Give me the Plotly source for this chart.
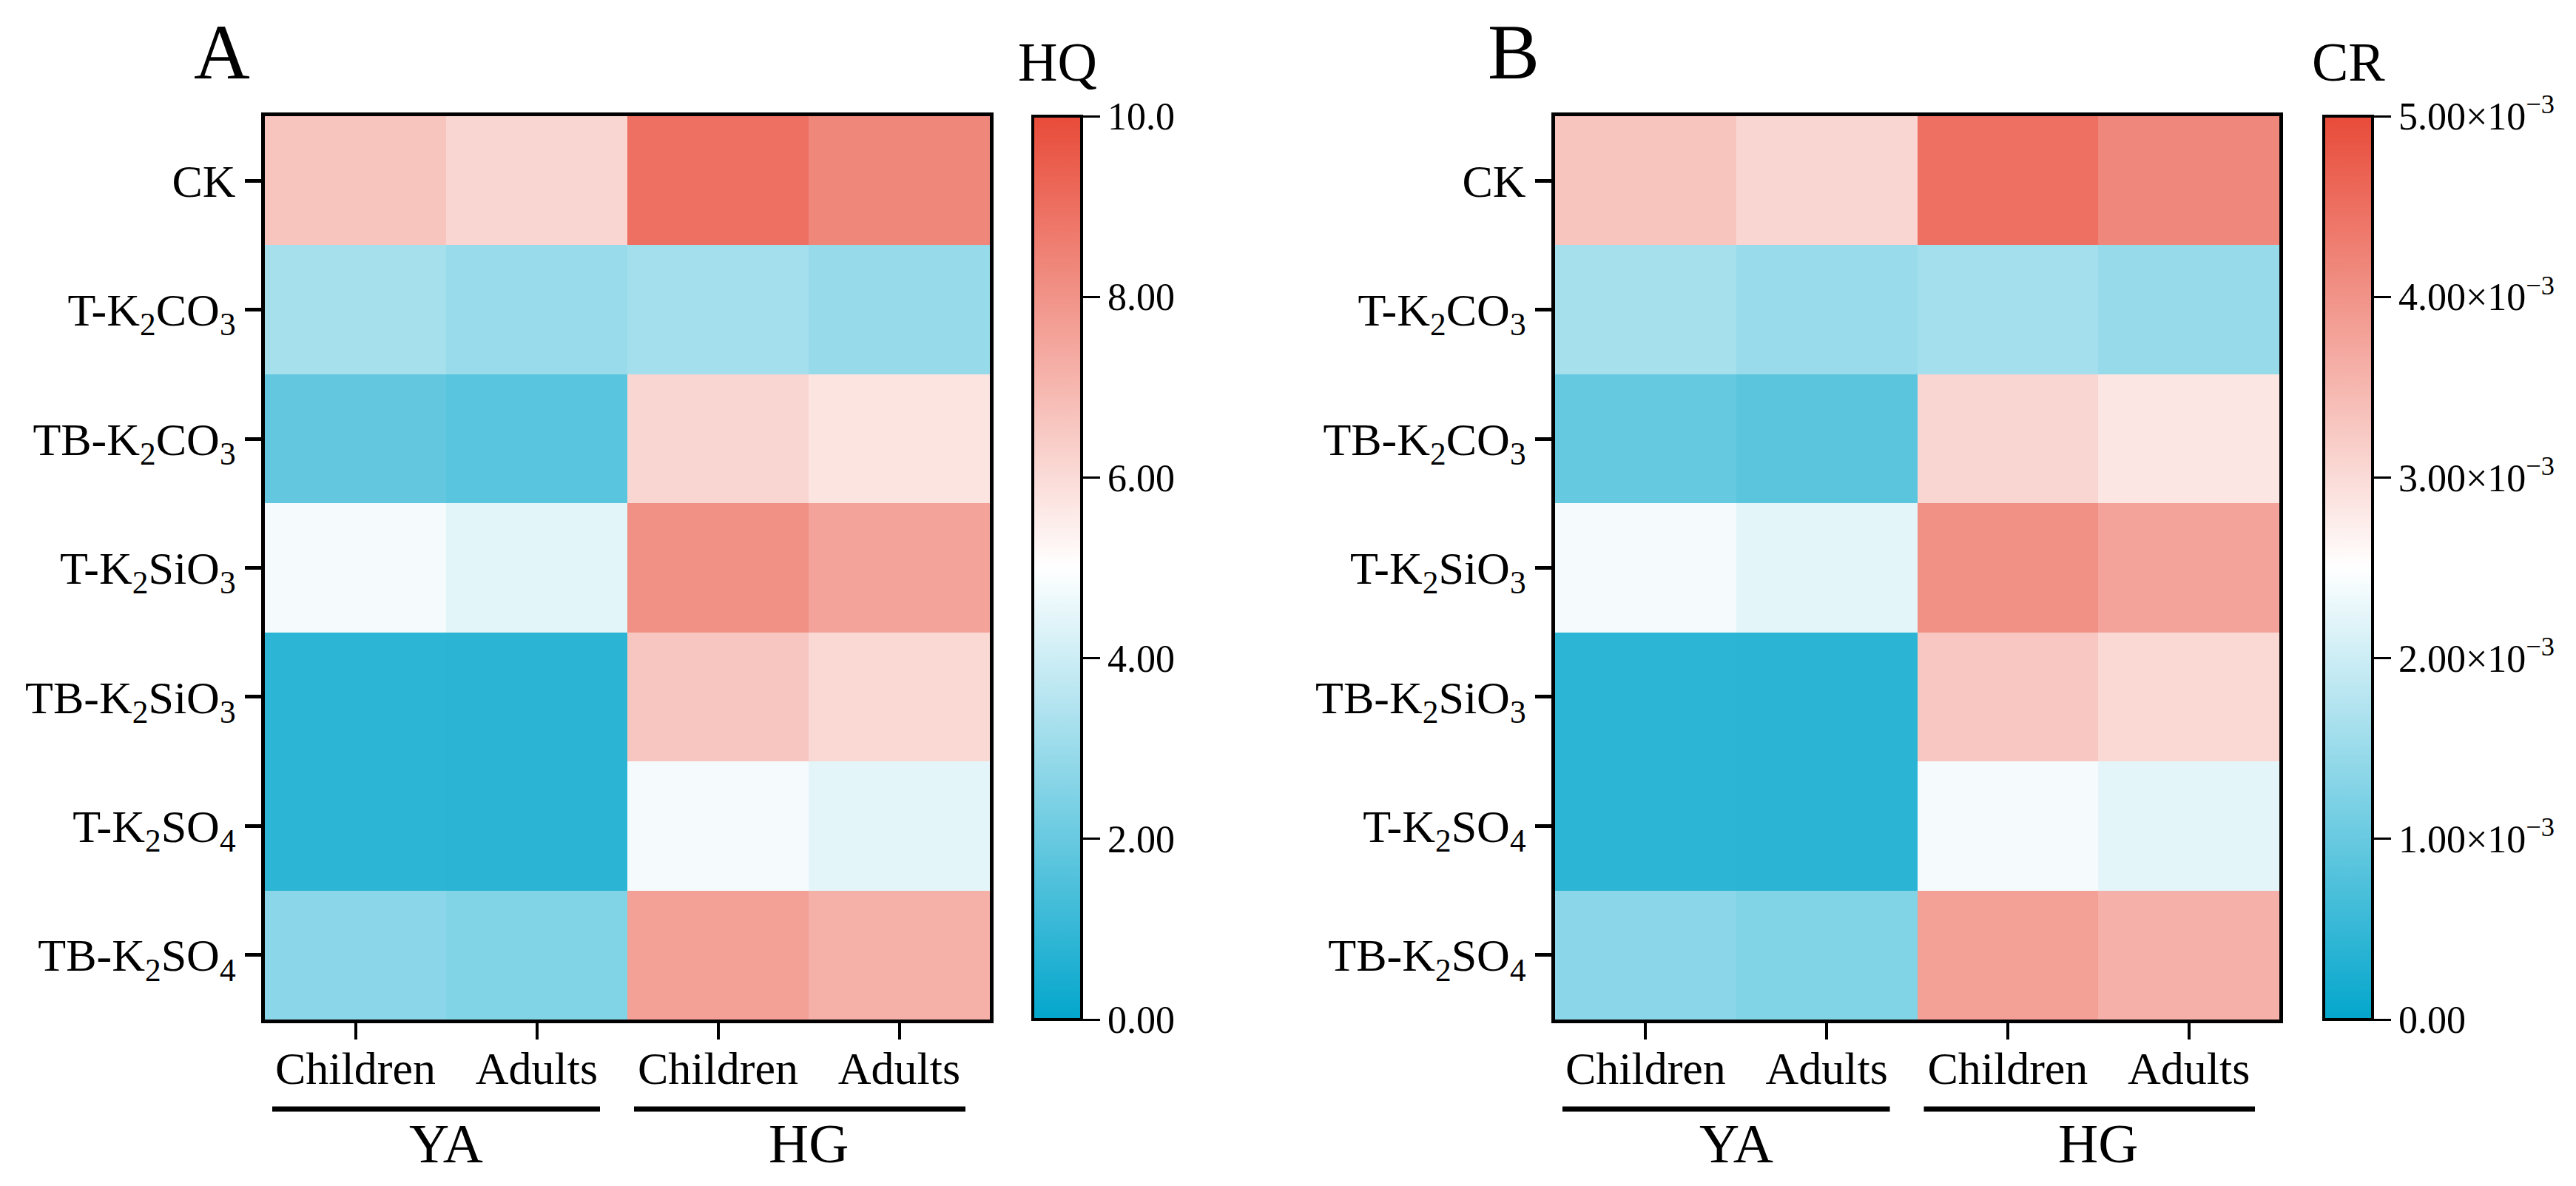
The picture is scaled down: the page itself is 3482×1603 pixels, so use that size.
import plotly.graph_objects as go

W, H = 3482, 1603

treatments = ["CK", "T-K<sub>2</sub>CO<sub>3</sub>", "TB-K<sub>2</sub>CO<sub>3</sub>",
              "T-K<sub>2</sub>SiO<sub>3</sub>", "TB-K<sub>2</sub>SiO<sub>3</sub>",
              "T-K<sub>2</sub>SO<sub>4</sub>", "TB-K<sub>2</sub>SO<sub>4</sub>"]
populations = ["Children", "Adults", "Children", "Adults"]
sites = ["YA", "HG"]

hq = [
    [6.64, 6.14, 8.97, 8.33],
    [3.24, 3.00, 3.18, 2.94],
    [1.88, 1.73, 6.14, 5.75],
    [4.80, 4.43, 8.08, 7.55],
    [0.82, 0.80, 6.58, 6.08],
    [0.82, 0.80, 4.80, 4.45],
    [2.70, 2.50, 7.64, 7.20],
]

cr = [
    [3.32e-3, 3.07e-3, 4.48e-3, 4.16e-3],
    [1.62e-3, 1.50e-3, 1.59e-3, 1.47e-3],
    [0.97e-3, 0.87e-3, 3.07e-3, 2.85e-3],
    [2.40e-3, 2.22e-3, 4.03e-3, 3.78e-3],
    [0.41e-3, 0.40e-3, 3.28e-3, 3.03e-3],
    [0.41e-3, 0.40e-3, 2.40e-3, 2.22e-3],
    [1.35e-3, 1.25e-3, 3.81e-3, 3.58e-3],
]

hq_ticks = [0, 2, 4, 6, 8, 10]
hq_ticktext = ["0.00", "2.00", "4.00", "6.00", "8.00", "10.0"]
cr_ticks = [0, 1e-3, 2e-3, 3e-3, 4e-3, 5e-3]
cr_ticktext = ["0.00", "1.00×10<sup>−3</sup>", "2.00×10<sup>−3</sup>", "3.00×10<sup>−3</sup>",
               "4.00×10<sup>−3</sup>", "5.00×10<sup>−3</sup>"]

FONT = "Liberation Serif, Times New Roman, serif"
colorscale = [[0.0, "rgb(3,166,204)"], [0.5, "rgb(255,255,255)"], [1.0, "rgb(232,75,57)"]]

def px(x):
    return x / W

def py(y):
    return 1 - y / H

top, bottom = 149, 1370
panels = [
    dict(left=350, right=1330, cbx=1388, z=hq, zmax=10, tv=hq_ticks, tt=hq_ticktext,
         title="HQ", letter="A", letter_x=292, xa="x", ya="y"),
    dict(left=2094, right=3073, cbx=3133, z=cr, zmax=5e-3, tv=cr_ticks, tt=cr_ticktext,
         title="CR", letter="B", letter_x=2038, xa="x2", ya="y2"),
]

fig = go.Figure()
xs = list(range(len(populations)))
ys = list(range(len(treatments)))

annotations = []
shapes = []
for i, p in enumerate(panels):
    fig.add_trace(go.Heatmap(
        z=p["z"], x=xs, y=ys, xaxis=p["xa"], yaxis=p["ya"],
        zmin=0, zmax=p["zmax"], colorscale=colorscale,
        colorbar=dict(
            x=px(p["cbx"]), xanchor="left", xpad=0, ypad=0,
            y=py(top), yanchor="top", len=(bottom - top) / H, lenmode="fraction",
            thickness=66, thicknessmode="pixels",
            outlinewidth=4, outlinecolor="black",
            tickmode="array", tickvals=p["tv"], ticktext=p["tt"],
            ticks="outside", ticklen=23, tickwidth=3, tickcolor="black",
            tickfont=dict(family=FONT, size=52, color="black"),
        ),
        hoverinfo="skip",
    ))
    sfx = "" if i == 0 else "2"
    fig.layout["xaxis" + sfx] = dict(
        domain=[px(p["left"]), px(p["right"])], anchor="y" + sfx,
        range=[-0.5, 3.5], tickmode="array", tickvals=xs, ticktext=populations,
        ticks="outside", ticklen=22, tickwidth=4, tickcolor="black",
        showline=True, mirror=True, linewidth=5, linecolor="black",
        showgrid=False, zeroline=False, ticklabelstandoff=-14,
        tickfont=dict(family=FONT, size=62, color="black"),
    )
    fig.layout["yaxis" + sfx] = dict(
        domain=[py(bottom), py(top)], anchor="x" + sfx,
        range=[6.5, -0.5], tickmode="array", tickvals=ys, ticktext=treatments,
        ticks="outside", ticklen=22, tickwidth=5, tickcolor="black",
        showline=True, mirror=True, linewidth=5, linecolor="black",
        showgrid=False, zeroline=False,
        tickfont=dict(family=FONT, size=62, color="black"),
    )
    # panel letter
    annotations.append(dict(text=p["letter"], x=px(p["letter_x"]), y=py(62), xref="paper", yref="paper",
                            xanchor="center", yanchor="middle", showarrow=False,
                            font=dict(family=FONT, size=105, color="black")))
    # colorbar title
    annotations.append(dict(text=p["title"], x=px(p["cbx"] + 33), y=py(76), xref="paper", yref="paper",
                            xanchor="center", yanchor="middle", showarrow=False,
                            font=dict(family=FONT, size=74, color="black")))
    # site group lines and labels
    for j, s in enumerate(sites):
        x0 = -0.5 + (10 if j == 0 else 499) / 245
        x1 = -0.5 + (453 if j == 0 else 947) / 245
        shapes.append(dict(type="line", xref=p["xa"], yref="paper", x0=x0, x1=x1,
                           y0=py(1491), y1=py(1491), line=dict(color="black", width=7)))
        annotations.append(dict(text=s, x=0.5 + 2 * j, y=py(1537), xref=p["xa"], yref="paper",
                                xanchor="center", yanchor="middle", showarrow=False,
                                font=dict(family=FONT, size=75, color="black")))

fig.update_layout(
    width=W, height=H, margin=dict(l=0, r=0, t=0, b=0),
    paper_bgcolor="white", plot_bgcolor="white",
    annotations=annotations, shapes=shapes,
    font=dict(family=FONT, color="black"),
)

fig.write_html("out.html")
